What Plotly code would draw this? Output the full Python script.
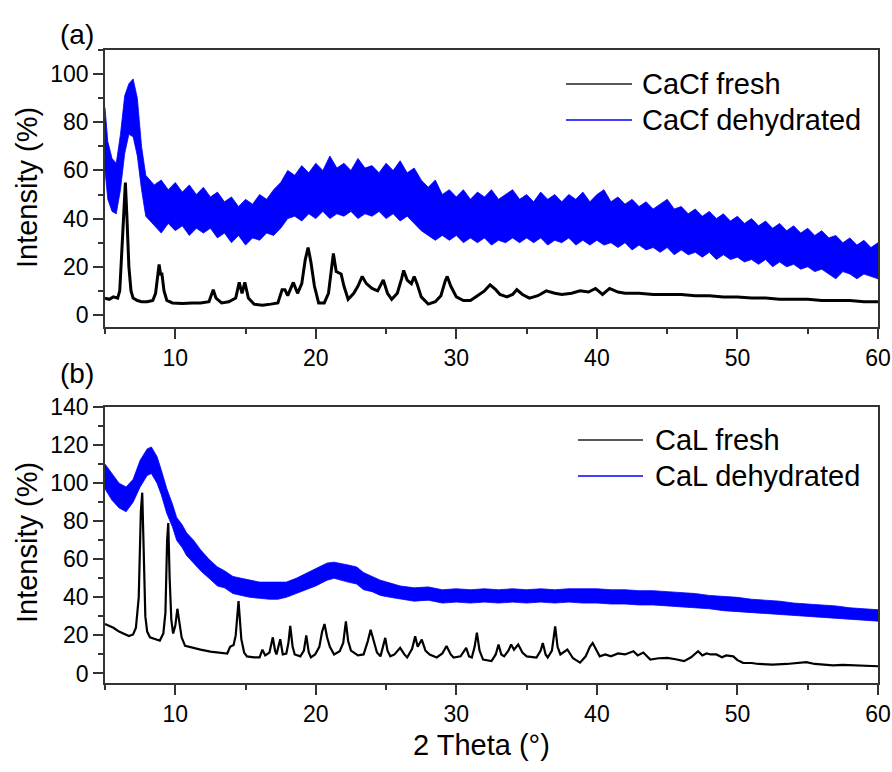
import plotly.graph_objects as go
from plotly.subplots import make_subplots

# (a) CaCf fresh  - black line, 2theta / intensity
cacf_fresh_x = [5.0, 5.3, 5.6, 5.9, 6.05, 6.2, 6.35, 6.45, 6.55, 6.7, 6.85, 7.0, 7.3, 7.6, 8.0, 8.4,
                8.6, 8.75, 8.85, 8.95, 9.05, 9.2, 9.4, 9.8, 10.5, 11.2, 11.8, 12.4, 12.7, 12.9, 13.3,
                13.8, 14.3, 14.55, 14.75, 14.95, 15.2, 15.6, 16.2, 16.8, 17.3, 17.6, 17.8, 18.0, 18.4,
                18.7, 19.0, 19.25, 19.45, 19.65, 19.9, 20.2, 20.6, 20.9, 21.1, 21.25, 21.45, 21.8, 22.0,
                22.3, 22.7, 23.0, 23.3, 23.6, 24.0, 24.4, 24.8, 25.1, 25.4, 25.8, 26.1, 26.25, 26.5,
                26.8, 27.0, 27.2, 27.5, 28.0, 28.5, 28.9, 29.2, 29.35, 29.6, 30.0, 30.5, 31.0, 31.5,
                32.0, 32.4, 32.8, 33.1, 33.6, 34.0, 34.3, 34.7, 35.2, 35.8, 36.4, 37.0, 37.5, 38.2,
                38.8, 39.4, 39.9, 40.4, 40.9, 41.5, 42.0, 43.0, 44.0, 45.0, 46.0, 47.0, 48.0, 49.0,
                50.0, 51.0, 52.0, 53.0, 54.0, 55.0, 56.0, 57.0, 58.0, 59.0, 60.0]
cacf_fresh_y = [7, 6.5, 7.5, 7, 10, 25, 45, 55, 42, 20, 10, 7, 6, 5.5, 5.5, 6,
                9, 17, 21, 17, 17, 10, 6, 5, 4.8, 5, 5, 5.5, 10.5, 7, 5,
                5.5, 7, 13.5, 9, 13.5, 7, 4.5, 4, 4.5, 5, 10.5, 10.5, 8, 13.5,
                9, 13, 23, 28, 22, 12, 5, 5, 9, 18, 25.5, 18, 17, 12,
                6.5, 9, 12, 16, 13, 11, 10, 14.5, 9, 6.5, 9, 15, 18.5, 14.5,
                13, 16, 13, 7.5, 4.5, 5.5, 8, 14, 16, 12, 7.5, 6, 6, 8,
                10, 12.5, 10.5, 8.5, 7.5, 8.5, 10.5, 8.5, 7, 8, 10, 9, 8.5, 9,
                10, 9.5, 11, 8.5, 11, 9.5, 9, 9, 8.5, 8.5, 8.5, 8, 8, 7.5,
                7.5, 7, 7, 6.5, 6.5, 6.5, 6, 6, 6, 5.5, 5.5]

# (a) CaCf dehydrated - noisy blue band, lower / upper edge
cacf_dehyd_x = [5.0, 5.2, 5.5, 5.8, 6.1, 6.4, 6.7, 7.0, 7.3, 7.6, 7.9,
                8.5, 9.0, 9.5, 10.0, 10.5, 11.0, 11.5, 12.0, 12.5, 13.0, 13.5, 14.0, 14.5, 15.0,
                15.5, 16.0, 16.5, 17.0, 17.5, 18.0, 18.5, 19.0, 19.5, 20.0, 20.5, 21.0, 21.5, 22.0,
                22.5, 23.0, 23.5, 24.0, 24.5, 25.0, 25.5, 26.0, 26.5, 27.0, 27.5, 28.0, 28.5, 29.0,
                29.5, 30.0, 30.5, 31.0, 31.5, 32.0, 32.5, 33.0, 33.5, 34.0, 34.5, 35.0, 35.5, 36.0,
                36.5, 37.0, 37.5, 38.0, 38.5, 39.0, 39.5, 40.0, 40.5, 41.0, 41.5, 42.0, 42.5, 43.0,
                43.5, 44.0, 44.5, 45.0, 45.5, 46.0, 46.5, 47.0, 47.5, 48.0, 48.5, 49.0, 49.5, 50.0,
                50.5, 51.0, 51.5, 52.0, 52.5, 53.0, 53.5, 54.0, 54.5, 55.0, 55.5, 56.0, 56.5, 57.0,
                57.5, 58.0, 58.5, 59.0, 59.5, 60.0]
cacf_dehyd_lo = [60, 48, 43, 42, 52, 67, 75, 74, 66, 52, 41,
                 37, 34, 38, 35, 37, 33, 36, 34, 36, 32, 34, 30, 33, 29,
                 32, 31, 34, 33, 36, 40, 41, 39, 42, 40, 43, 40, 42, 41,
                 43, 40, 42, 41, 43, 40, 42, 39, 41, 38, 35, 33, 31, 33,
                 31, 33, 30, 32, 30, 32, 29, 31, 30, 32, 30, 32, 30, 32,
                 29, 31, 30, 32, 29, 31, 29, 31, 29, 30, 28, 30, 27, 29,
                 27, 28, 26, 28, 25, 27, 25, 26, 24, 26, 23, 25, 23, 24,
                 22, 23, 21, 23, 20, 22, 20, 21, 19, 20, 18, 19, 17, 15,
                 18, 17, 15, 17, 16, 15]
cacf_dehyd_hi = [86, 72, 65, 63, 75, 91, 96, 98, 90, 70, 58,
                 54, 56, 52, 55, 51, 54, 50, 53, 49, 51, 47, 49, 45, 48,
                 46, 50, 48, 52, 55, 60, 58, 62, 59, 63, 60, 66, 61, 63,
                 60, 65, 61, 62, 59, 63, 60, 64, 59, 61, 56, 53, 56, 50,
                 52, 49, 52, 48, 51, 49, 52, 48, 50, 52, 48, 50, 47, 51,
                 48, 50, 47, 50, 48, 51, 47, 50, 52, 47, 49, 46, 48, 45,
                 47, 44, 46, 48, 44, 45, 42, 44, 41, 43, 40, 42, 39, 41,
                 38, 40, 37, 39, 36, 38, 35, 37, 34, 36, 33, 35, 32, 33,
                 30, 32, 29, 31, 28, 30]

# (b) CaL fresh - black line
cal_fresh_x = [5.0, 5.3, 5.6, 6.0, 6.3, 6.7, 7.0, 7.2, 7.4, 7.55, 7.65, 7.75, 7.87, 8.0, 8.2, 8.6,
               8.9, 9.15, 9.3, 9.42, 9.5, 9.6, 9.72, 9.85, 10.0, 10.15, 10.3, 10.45, 10.7, 11.2,
               11.8, 12.5, 13.2, 13.7, 13.9, 14.15, 14.3, 14.5, 14.7, 14.9, 15.1, 15.6, 16.0, 16.2,
               16.4, 16.7, 16.94, 17.1, 17.2, 17.47, 17.65, 17.9, 18.05, 18.18, 18.35, 18.5, 18.9,
               19.15, 19.32, 19.5, 19.65, 19.95, 20.25, 20.45, 20.62, 20.8, 21.0, 21.3, 21.7, 21.95,
               22.14, 22.3, 22.5, 23.0, 23.4, 23.7, 23.9, 24.1, 24.35, 24.6, 24.8, 24.94, 25.1, 25.3,
               25.6, 26.0, 26.3, 26.5, 26.85, 27.07, 27.25, 27.54, 27.8, 28.1, 28.6, 29.0, 29.3,
               29.6, 29.8, 30.3, 30.7, 30.9, 31.1, 31.3, 31.46, 31.65, 31.9, 32.5, 32.8, 33.0, 33.2,
               33.4, 33.7, 33.9, 34.1, 34.4, 34.7, 35.0, 35.7, 36.0, 36.15, 36.35, 36.5, 36.8, 37.03,
               37.2, 37.4, 37.9, 38.3, 38.8, 39.2, 39.5, 39.7, 39.9, 40.2, 40.6, 41.0, 41.5, 42.0,
               42.6, 42.9, 43.3, 43.8, 44.4, 45.0, 45.6, 46.2, 46.7, 47.2, 47.5, 47.8, 48.1, 48.5,
               48.9, 49.2, 49.7, 50.0, 50.4, 51.0, 51.5, 52.5, 53.5, 54.5, 54.9, 55.5, 56.0, 56.8,
               57.5, 58.5, 59.3, 60.0]
cal_fresh_y = [26, 25, 24, 22, 21, 19.7, 20.5, 24, 40, 85, 95, 70, 30, 22, 19, 18,
               17.3, 21, 32, 70, 79, 50, 28, 21, 25, 34, 25, 19, 14.5, 13.5,
               12.5, 11.5, 11, 10.5, 14, 15, 20, 38, 18, 11, 9, 8.5, 8.5, 12.5,
               9.5, 11, 19, 12, 10, 18, 10, 10.5, 16, 25, 14, 10, 9,
               12, 20, 11, 8.5, 10, 14, 22, 26, 19, 14, 10, 11.7, 16,
               27.4, 17, 12, 9.5, 10, 17, 23, 17, 11, 9, 14, 18.7, 12, 9,
               10, 13.5, 10, 8.4, 13, 19.5, 14, 17.8, 12, 10, 8.4, 10.5, 14.4,
               10, 8.4, 9, 13.5, 9, 8.4, 14, 21.5, 12, 7.3, 6.5, 10, 15.2, 10,
               9, 12, 15.2, 12.5, 15.2, 11, 9, 8.4, 12, 16, 10, 8.4, 12, 24.8,
               14, 10, 12.6, 8, 5.7, 9, 14, 16, 13, 9, 10, 9, 10.5, 10,
               11.7, 9.5, 11, 7.3, 8, 8.2, 7.5, 6.5, 8.5, 11.7, 9.5, 10.5, 10, 10,
               8.5, 9.5, 9, 7, 5.6, 5.5, 5, 4.7, 5, 5.5, 6, 5, 4.8, 4.3,
               4.5, 4.2, 4.3, 3.8]

# (b) CaL dehydrated - blue band
cal_dehyd_x = [5.0, 5.5, 6.0, 6.5, 7.0, 7.5, 8.0, 8.3, 8.7, 9.0, 9.4, 9.8, 10.1, 10.5, 10.8, 11.3,
               11.8, 12.4, 13.0, 13.5, 14.1, 14.7, 15.3, 16.0, 16.7, 17.3, 17.9, 18.6, 19.3, 20.0,
               20.8, 21.3, 21.7, 22.3, 22.9, 23.4, 24.0, 24.6, 25.3, 26.0, 27, 28, 29, 30, 31, 32,
               33, 34, 35, 36, 37, 38, 39, 40, 41, 42, 43, 44, 45, 46, 47, 48, 49, 50, 51, 52, 53,
               54, 55, 56, 57, 58, 59, 60]
cal_dehyd_lo = [97, 91, 87, 85, 90, 98, 104, 105, 100, 94, 84, 77, 70, 66, 62, 58,
                54, 50, 46, 45, 42, 41, 40, 39.5, 39, 39, 40, 42, 44, 46,
                49, 50, 49, 48, 47, 44, 43, 41, 40, 39, 38, 38.5, 37, 37.5, 37, 37.5,
                37, 37.5, 37, 37.5, 37, 37.5, 37, 37, 36.5, 36.5, 36, 36, 35.5, 35, 34.5, 34, 33,
                32.5, 32, 31.5, 31, 30.5, 30, 29.5, 29, 28.5, 28, 27.5]
cal_dehyd_hi = [110, 105, 100, 98, 102, 112, 118, 119, 114, 107, 97, 89, 82, 78, 74, 70,
                65, 60, 56, 54, 51, 50, 49, 48, 48, 48, 48, 50, 52.5, 55,
                58, 58.5, 58, 57, 56, 53, 51, 49, 47.5, 46, 45, 45.5, 44, 44.5, 44, 44.5,
                44, 44.5, 44, 44.5, 44, 44.5, 44.5, 44.5, 44, 44, 43.5, 43.5, 43, 42.5, 42, 41,
                40.5, 40, 39, 38.5, 38, 37, 36.5, 36, 35.5, 34.5, 34, 33.5]

W, H = 892, 772
L, R, T, B = 105, 14, 50, 89
PW, PH = W - L - R, H - T - B
FONT = "Arial, Liberation Sans, sans-serif"
BLUE = "#0000ff"


def px(x):
    return (x - L) / PW


def py(y):
    return 1 - (y - T) / PH


fig = make_subplots(rows=2, cols=1)

fig.add_trace(go.Scatter(x=cacf_dehyd_x + cacf_dehyd_x[::-1], y=cacf_dehyd_hi + cacf_dehyd_lo[::-1],
                         fill="toself", fillcolor=BLUE, mode="lines", line=dict(color=BLUE, width=0.8),
                         showlegend=False), row=1, col=1)
fig.add_trace(go.Scatter(x=cacf_fresh_x, y=cacf_fresh_y, mode="lines",
                         line=dict(color="black", width=3), showlegend=False), row=1, col=1)
fig.add_trace(go.Scatter(x=cal_dehyd_x + cal_dehyd_x[::-1], y=cal_dehyd_hi + cal_dehyd_lo[::-1],
                         fill="toself", fillcolor=BLUE, mode="lines", line=dict(color=BLUE, width=0.8),
                         showlegend=False), row=2, col=1)
fig.add_trace(go.Scatter(x=cal_fresh_x, y=cal_fresh_y, mode="lines",
                         line=dict(color="black", width=2.2), showlegend=False), row=2, col=1)

axis_common = dict(showline=True, linecolor="#333", linewidth=1.5, mirror=True, showgrid=False,
                   zeroline=False, ticks="outside", ticklen=10, tickwidth=1.5, tickcolor="#333",
                   automargin=False, tickfont=dict(family=FONT, size=23, color="black"))
fig.update_xaxes(range=[5, 60], tick0=0, dtick=10, domain=[0, 1],
                 minor=dict(dtick=5, ticks="outside", ticklen=5, tickcolor="#333"), **axis_common)
fig.update_yaxes(dtick=20, tick0=0,
                 minor=dict(dtick=10, ticks="outside", ticklen=5, tickcolor="#333"), **axis_common)
fig.update_yaxes(range=[-5, 110], domain=[py(327), 1], row=1, col=1)
fig.update_yaxes(range=[-5, 140], domain=[0, py(407)], row=2, col=1)

# hand-drawn legends, panel labels and axis titles
legends = [(84, 120, 566, 632, 640, "CaCf fresh", "CaCf dehydrated"),
           (440, 476, 578, 643, 653, "CaL fresh", "CaL dehydrated")]
for y1, y2, x0, x1, xt, t1, t2 in legends:
    fig.add_shape(type="line", xref="paper", yref="paper", x0=px(x0), x1=px(x1), y0=py(y1), y1=py(y1),
                  line=dict(color="#222", width=1.5))
    fig.add_shape(type="line", xref="paper", yref="paper", x0=px(x0), x1=px(x1), y0=py(y2), y1=py(y2),
                  line=dict(color=BLUE, width=1.5))
    for yy, tt in [(y1, t1), (y2, t2)]:
        fig.add_annotation(xref="paper", yref="paper", x=px(xt), y=py(yy), text=tt, showarrow=False,
                           xanchor="left", yanchor="middle", font=dict(family=FONT, size=29, color="black"))

for lab, yy in [("(a)", 34), ("(b)", 373)]:
    fig.add_annotation(xref="paper", yref="paper", x=px(77), y=py(yy), text=lab, showarrow=False,
                       xanchor="center", yanchor="middle", font=dict(family=FONT, size=28, color="black"))
for yy in [188, 543]:
    fig.add_annotation(xref="paper", yref="paper", x=px(27), y=py(yy), text="Intensity (%)",
                       textangle=-90, showarrow=False, xanchor="center", yanchor="middle",
                       font=dict(family=FONT, size=29, color="black"))
fig.add_annotation(xref="paper", yref="paper", x=px(481), y=py(745), text="2 Theta (°)", showarrow=False,
                   xanchor="center", yanchor="middle", font=dict(family=FONT, size=29, color="black"))

fig.update_layout(width=W, height=H, margin=dict(l=L, r=R, t=T, b=B),
                  paper_bgcolor="white", plot_bgcolor="white", showlegend=False)

# the page's default body margin would push the figure 8px in
fig.write_html("out.html", config={"displayModeBar": False},
               post_script="document.body.style.margin='0';")
